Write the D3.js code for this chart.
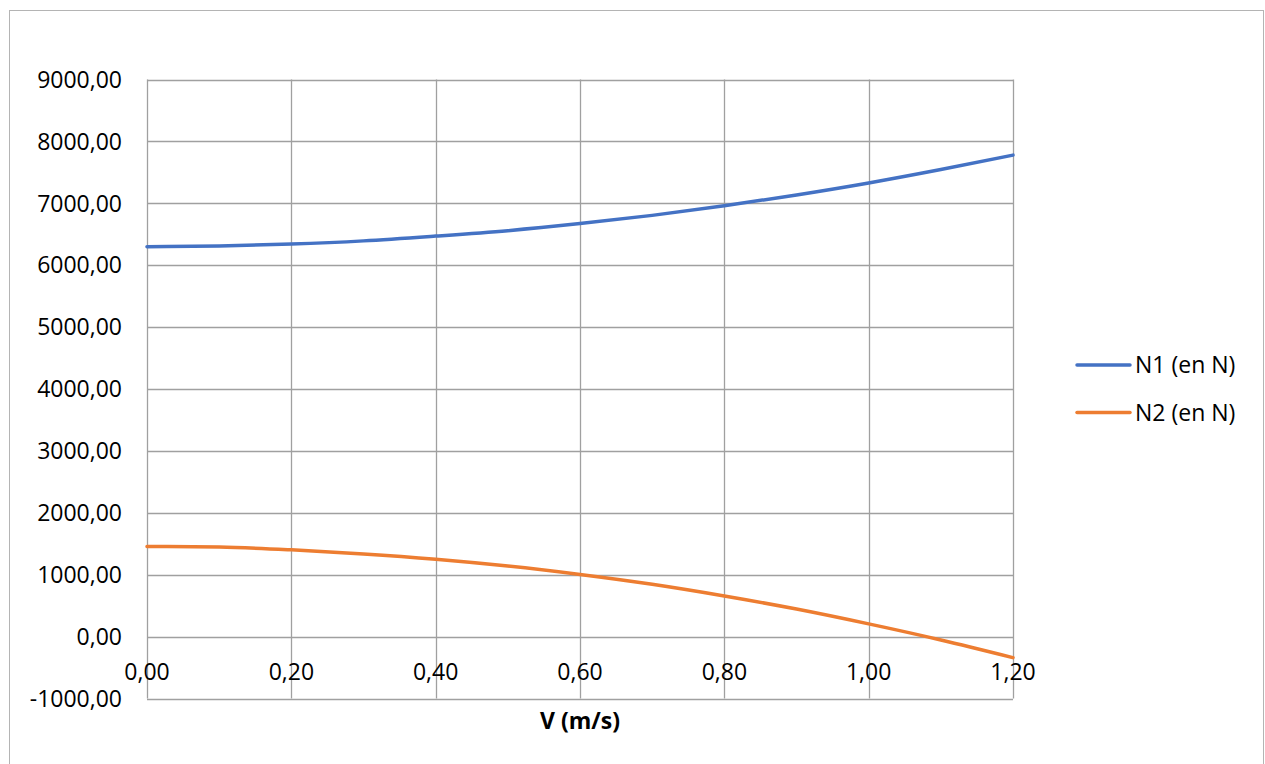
<!DOCTYPE html>
<html>
<head>
<meta charset="utf-8">
<script src="https://cdn.jsdelivr.net/npm/d3@7"></script>
<style>
  html, body { margin: 0; padding: 0; background: #fff; }
  svg { display: block; }
  text { font-family: "Open Sans", "Noto Sans", sans-serif; fill: #000; }
</style>
</head>
<body>
<svg id="chart" width="1265" height="764"></svg>
<script>
// Speed values (m/s) and the two normal forces (N)
const speeds = [0.0, 0.1, 0.2, 0.3, 0.4, 0.5, 0.6, 0.7, 0.8, 0.9, 1.0, 1.1, 1.2];
const n1Values = [6300, 6310, 6341, 6393, 6470, 6558, 6672, 6805, 6960, 7134, 7328, 7545, 7778];
const n2Values = [1456, 1446, 1402, 1336, 1250, 1140, 1004, 845, 656, 445, 205, -55, -340];

const seriesNames = ["N1 (en N)", "N2 (en N)"];
const seriesColors = ["#4472C4", "#ED7D31"];

const xTicks = [0, 0.2, 0.4, 0.6, 0.8, 1.0, 1.2];
const yTicks = [-1000, 0, 1000, 2000, 3000, 4000, 5000, 6000, 7000, 8000, 9000];
const xTitle = "V (m/s)";

const svg = d3.select("#chart");

// outer chart frame
svg.append("rect")
  .attr("x", 9.5).attr("y", 10.5)
  .attr("width", 1254).attr("height", 800)
  .attr("fill", "none").attr("stroke", "#b4b4b4").attr("stroke-width", 1);

const plot = { left: 147, right: 1013, top: 79.5, bottom: 698.5 };

const x = d3.scaleLinear().domain([0, 1.2]).range([plot.left, plot.right]);
const y = d3.scaleLinear().domain([-1000, 9000]).range([plot.bottom, plot.top]);

// decimal comma and plain hyphen minus
const fmt = v => d3.format(".2f")(v).replace(".", ",").replace("\u2212", "-");

const gridColor = "#a0a0a0";
const crisp = v => Math.round(v) + 0.5;

// horizontal gridlines
svg.append("g").selectAll("line").data(yTicks).join("line")
  .attr("x1", plot.left).attr("x2", plot.right)
  .attr("y1", d => crisp(y(d))).attr("y2", d => crisp(y(d)))
  .attr("stroke", gridColor).attr("stroke-width", 1.3);

// vertical gridlines
svg.append("g").selectAll("line").data(xTicks).join("line")
  .attr("x1", d => crisp(x(d))).attr("x2", d => crisp(x(d)))
  .attr("y1", plot.top).attr("y2", plot.bottom)
  .attr("stroke", gridColor).attr("stroke-width", 1.3);

// y-axis labels
svg.append("g").selectAll("text").data(yTicks).join("text")
  .attr("x", 122).attr("y", d => y(d))
  .attr("dy", "0.36em")
  .attr("text-anchor", "end")
  .style("font-size", "23px")
  .text(d => fmt(d));

// x-axis labels, placed under the zero line
svg.append("g").selectAll("text").data(xTicks).join("text")
  .attr("x", d => x(d)).attr("y", y(0) + 35)
  .attr("dy", "0.36em")
  .attr("text-anchor", "middle")
  .style("font-size", "23px")
  .text(d => fmt(d));

// x-axis title
svg.append("text")
  .attr("x", (plot.left + plot.right) / 2).attr("y", 721)
  .attr("dy", "0.36em")
  .attr("text-anchor", "middle")
  .style("font-size", "23px").style("font-weight", "bold")
  .text(xTitle);

// series lines
const line = d3.line()
  .x((d, i) => x(speeds[i]))
  .y(d => y(d))
  .curve(d3.curveMonotoneX);

[n1Values, n2Values].forEach((vals, k) => {
  svg.append("path")
    .attr("d", line(vals))
    .attr("fill", "none")
    .attr("stroke", seriesColors[k])
    .attr("stroke-width", 3.5)
    .attr("stroke-linecap", "round");
});

// legend
const legend = svg.append("g");
seriesNames.forEach((name, k) => {
  const ly = 365 + k * 47.5;
  legend.append("line")
    .attr("x1", 1077).attr("x2", 1130)
    .attr("y1", ly).attr("y2", ly)
    .attr("stroke", seriesColors[k]).attr("stroke-width", 3.5)
    .attr("stroke-linecap", "round");
  legend.append("text")
    .attr("x", 1135).attr("y", ly)
    .attr("dy", "0.36em")
    .style("font-size", "23px")
    .text(name);
});
</script>
</body>
</html>
